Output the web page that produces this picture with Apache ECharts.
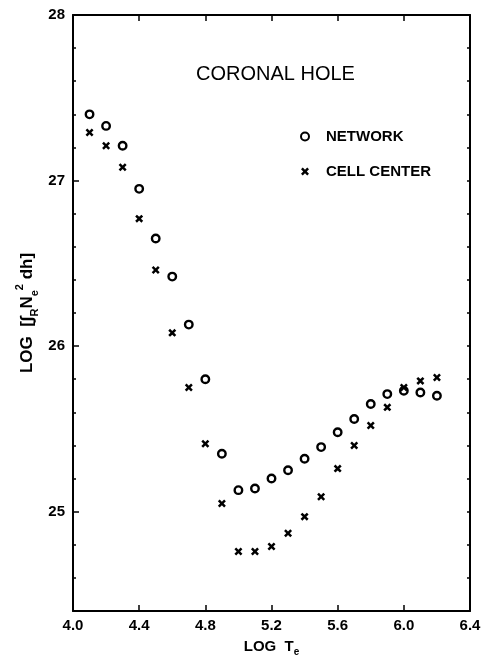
<!DOCTYPE html>
<html>
<head>
<meta charset="utf-8">
<script src="https://cdn.jsdelivr.net/npm/echarts@6/dist/echarts.min.js"></script>
<style>html,body{margin:0;padding:0;background:#fff;}#c{width:481px;height:658px;}</style>
</head>
<body>
<div id="c"></div>
<script>
var logT = [4.1, 4.2, 4.3, 4.4, 4.5, 4.6, 4.7, 4.8, 4.9, 5.0, 5.1, 5.2, 5.3, 5.4, 5.5, 5.6, 5.7, 5.8, 5.9, 6.0, 6.1, 6.2];
var network = [27.40, 27.33, 27.21, 26.95, 26.65, 26.42, 26.13, 25.80, 25.35, 25.13, 25.14, 25.20, 25.25, 25.32, 25.39, 25.48, 25.56, 25.65, 25.71, 25.73, 25.72, 25.70];
var cellCenter = [27.29, 27.21, 27.08, 26.77, 26.46, 26.08, 25.75, 25.41, 25.05, 24.76, 24.76, 24.79, 24.87, 24.97, 25.09, 25.26, 25.40, 25.52, 25.63, 25.75, 25.79, 25.81];
var yTickLabels = [25, 26, 27, 28];
var seriesNames = ['NETWORK', 'CELL CENTER'];
var titleText = 'CORONAL HOLE';

var FONT = 'Liberation Sans';
var crossPath = 'path://M0,2.2L2.2,0L5,2.8L7.8,0L10,2.2L7.2,5L10,7.8L7.8,10L5,7.2L2.2,10L0,7.8L2.8,5Z';

function pairs(xs, ys) { return xs.map(function (x, i) { return [x, ys[i]]; }); }

var chart = echarts.init(document.getElementById('c'), null, { renderer: 'canvas' });
var axisLineStyle = { color: '#000', width: 2 };
chart.setOption({
  animation: false,
  backgroundColor: '#fff',
  grid: { left: 73, right: 11, top: 15, bottom: 47, containLabel: false, outerBoundsMode: 'none' },
  graphic: [{
    type: 'text', x: 275.5, y: 74,
    style: { text: titleText, fontFamily: FONT, fontSize: 20, fill: '#000', textAlign: 'center', textVerticalAlign: 'middle' }
  }],
  legend: {
    orient: 'vertical', left: 295, top: 124, itemWidth: 32, itemHeight: 8, itemGap: 20,
    data: seriesNames,
    textStyle: { fontFamily: FONT, fontSize: 15, fontWeight: 'bold', color: '#000' }
  },
  xAxis: [{
    type: 'value', min: 4.0, max: 6.4, interval: 0.4, position: 'bottom',
    axisLine: { show: true, onZero: false, lineStyle: axisLineStyle },
    axisTick: { show: true, inside: true, length: 6, lineStyle: { color: '#000', width: 1.5 } },
    splitLine: { show: false },
    axisLabel: { margin: 7, fontFamily: FONT, fontSize: 15, fontWeight: 'bold', color: '#000',
      formatter: function (v) { return v.toFixed(1); } },
    name: '{m|LOG  T}{s|e}', nameLocation: 'middle', nameGap: 26,
    nameTextStyle: { rich: {
      m: { fontFamily: FONT, fontSize: 15, fontWeight: 'bold', color: '#000', lineHeight: 20, verticalAlign: 'middle' },
      s: { fontFamily: FONT, fontSize: 10, fontWeight: 'bold', color: '#000', lineHeight: 20, verticalAlign: 'bottom' }
    } }
  }, {
    type: 'value', min: 4.0, max: 6.4, interval: 0.4, position: 'top',
    axisLine: { show: true, onZero: false, lineStyle: axisLineStyle },
    axisTick: { show: true, inside: true, length: 6, lineStyle: { color: '#000', width: 1.5 } },
    splitLine: { show: false }, axisLabel: { show: false }
  }],
  yAxis: [{
    type: 'value', min: 24.4, max: 28, interval: 0.2, position: 'left',
    axisLine: { show: true, onZero: false, lineStyle: axisLineStyle },
    axisTick: { show: true, inside: true, length: 3, lineStyle: { color: '#000', width: 1.5 } },
    splitLine: { show: false }, axisLabel: { show: false },
    name: '{m|LOG  [\u222B}{s|R}{m|N}{s|e}{p|2}{m| dh]}', nameLocation: 'middle', nameGap: 33, nameRotate: 90,
    nameTextStyle: { rich: {
      m: { fontFamily: FONT, fontSize: 17, fontWeight: 'bold', color: '#000', lineHeight: 26, verticalAlign: 'middle' },
      s: { fontFamily: FONT, fontSize: 11, fontWeight: 'bold', color: '#000', lineHeight: 26, verticalAlign: 'bottom' },
      p: { fontFamily: FONT, fontSize: 11, fontWeight: 'bold', color: '#000', lineHeight: 26, verticalAlign: 'top' }
    } }
  }, {
    type: 'value', min: 24.4, max: 28, position: 'left',
    axisLine: { show: false },
    axisTick: { show: true, inside: true, length: 6, customValues: yTickLabels, lineStyle: { color: '#000', width: 1.5 } },
    splitLine: { show: false },
    axisLabel: { show: true, customValues: yTickLabels, margin: 8, fontFamily: FONT, fontSize: 15, fontWeight: 'bold', color: '#000' }
  }, {
    type: 'value', min: 24.4, max: 28, interval: 0.2, position: 'right',
    axisLine: { show: true, onZero: false, lineStyle: axisLineStyle },
    axisTick: { show: true, inside: true, length: 3, lineStyle: { color: '#000', width: 1.5 } },
    splitLine: { show: false }, axisLabel: { show: false }
  }],
  series: [{
    name: seriesNames[0], type: 'scatter', xAxisIndex: 0, yAxisIndex: 0,
    symbol: 'circle', symbolSize: 7.5,
    itemStyle: { color: '#fff', borderColor: '#000', borderWidth: 2.4, opacity: 1 },
    data: pairs(logT, network)
  }, {
    name: seriesNames[1], type: 'scatter', xAxisIndex: 0, yAxisIndex: 0,
    symbol: crossPath, symbolSize: 8,
    itemStyle: { color: '#000', opacity: 1 },
    data: pairs(logT, cellCenter)
  }]
});
</script>
</body>
</html>
